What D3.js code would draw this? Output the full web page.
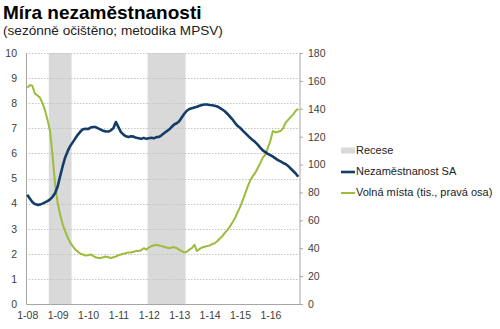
<!DOCTYPE html>
<html>
<head>
<meta charset="utf-8">
<script src="https://cdn.jsdelivr.net/npm/d3@7"></script>
<style>
  html, body { margin: 0; padding: 0; background: #fff; }
  svg { display: block; font-family: "Liberation Sans", Arial, sans-serif; }
</style>
</head>
<body>
<svg id="chart" width="500" height="329"></svg>
<script>
// Monthly observations, January 2008 – December 2016
const startYear = 2008;
const monthCount = 108;

// Registered unemployment rate, seasonally adjusted (%), left axis
const unemployment = [
  4.35, 4.2, 4.06, 3.98, 3.95, 3.96, 4.0, 4.05, 4.1, 4.17, 4.27, 4.42,
  4.68, 5.1, 5.5, 5.85, 6.1, 6.3, 6.45, 6.6, 6.75, 6.87, 6.96, 6.98,
  6.97, 7.03, 7.05, 7.05, 7.0, 6.95, 6.9, 6.87, 6.87, 6.92, 7.0, 7.25,
  7.05, 6.85, 6.75, 6.68, 6.65, 6.68, 6.67, 6.62, 6.6, 6.58, 6.62, 6.58,
  6.6, 6.62, 6.6, 6.65, 6.66, 6.72, 6.8, 6.88, 6.95, 7.05, 7.15, 7.2,
  7.28, 7.43, 7.58, 7.7, 7.77, 7.8, 7.83, 7.86, 7.9, 7.93, 7.95, 7.95,
  7.93, 7.92, 7.9, 7.87, 7.81, 7.75, 7.68, 7.58, 7.47, 7.36, 7.22, 7.1,
  7.02, 6.92, 6.82, 6.72, 6.62, 6.53, 6.45, 6.35, 6.23, 6.12, 6.05, 5.98,
  5.93, 5.87, 5.8, 5.73, 5.68, 5.62, 5.58, 5.5, 5.4, 5.3, 5.2, 5.07
];

// Job vacancies (thousands), right axis
const vacancies = [
  155, 157, 156.5, 151, 149.5, 148, 144, 139, 132, 124, 106, 86,
  72.5, 64, 57, 52, 47.5, 44, 41.3, 39, 37.5, 36, 35.5, 34.8,
  35, 35.5, 34.5, 33.5, 33, 33, 33.5, 34, 33.5, 33, 33.5, 34,
  35, 35.5, 36, 36.5, 37, 37, 37.5, 38, 38, 38.5, 40, 39,
  40.5, 41.5, 42, 42.5, 42, 41.5, 41, 40.5, 40, 40.5, 40.8, 40,
  39, 38, 37, 37.5, 39, 40, 42.5, 38, 39.5, 40.5, 41, 41.5,
  42, 43, 43.5, 45, 47, 48.5, 51, 53, 55.5, 58.5, 61.5, 65.5,
  69.5, 74, 79, 84, 88.5, 91.5, 94, 97.5, 101, 105, 107, 112,
  117, 124, 123, 123.5, 124, 126, 130, 132, 134, 136, 138.5, 140
];

// Recession periods as [first month index, last month index]
const recessions = [[9, 17], [48, 62]];

// Axis ticks
const leftTicks = [0, 1, 2, 3, 4, 5, 6, 7, 8, 9, 10];
const rightTicks = [0, 20, 40, 60, 80, 100, 120, 140, 160, 180];
const yearTickLabels = ["1-08", "1-09", "1-10", "1-11", "1-12", "1-13", "1-14", "1-15", "1-16"];

const titleText = "Míra nezaměstnanosti";
const subtitleText = "(sezónně očištěno; metodika MPSV)";
const legendLabels = ["Recese", "Nezaměstnanost SA", "Volná místa (tis., pravá osa)"];

const colors = { blue: "#143c69", green: "#9cbc3a", recession: "#d9d9d9", grid: "#c4c4c4", axis: "#a6a6a6", text: "#404040" };

const svg = d3.select("#chart");
const plot = { left: 26, right: 299.5, top: 53, bottom: 304 };

// Category-style x axis: each month occupies one slot, points sit at slot centres
const xSlot = d3.scaleLinear().domain([0, monthCount]).range([plot.left, plot.right]);
const x = i => xSlot(i + 0.5);
const yLeft = d3.scaleLinear().domain([0, 10]).range([plot.bottom, plot.top]);
const yRight = d3.scaleLinear().domain([0, 180]).range([plot.bottom, plot.top]);

// Title
svg.append("text").attr("x", 3).attr("y", 18.5)
  .attr("font-size", 19).attr("font-weight", "bold").attr("fill", "#000")
  .text(titleText);
svg.append("text").attr("x", 3).attr("y", 34.5)
  .attr("font-size", 13.6).attr("fill", "#222")
  .text(subtitleText);

// Recession shading
svg.append("g").selectAll("rect").data(recessions).join("rect")
  .attr("x", d => xSlot(d[0]))
  .attr("width", d => xSlot(d[1] + 1) - xSlot(d[0]))
  .attr("y", plot.top)
  .attr("height", plot.bottom - plot.top)
  .attr("fill", colors.recession);

// Horizontal dotted gridlines
svg.append("g").selectAll("line").data(leftTicks.filter(v => v > 0)).join("line")
  .attr("x1", plot.left).attr("x2", plot.right)
  .attr("y1", d => Math.round(yLeft(d)) + 0.5).attr("y2", d => Math.round(yLeft(d)) + 0.5)
  .attr("stroke", colors.grid).attr("stroke-width", 1).attr("stroke-dasharray", "1.5,1.5");

// Left axis
const leftAxis = svg.append("g").attr("transform", `translate(${plot.left},0)`)
  .call(d3.axisLeft(yLeft).tickValues(leftTicks).tickSize(0).tickPadding(9));
// Right axis
const rightAxis = svg.append("g").attr("transform", `translate(${plot.right},0)`)
  .call(d3.axisRight(yRight).tickValues(rightTicks).tickSize(3.5).tickPadding(5));
// Bottom axis
const yearIdx = yearTickLabels.map((_, k) => k * 12);
const bottomAxis = svg.append("g").attr("transform", `translate(0,${plot.bottom})`)
  .call(d3.axisBottom(d3.scaleLinear().domain([0, monthCount]).range([plot.left, plot.right]))
    .tickValues(yearIdx.map(i => i + 0.5))
    .tickFormat((d, k) => yearTickLabels[k])
    .tickSize(0).tickPadding(8));

[leftAxis, rightAxis, bottomAxis].forEach(g => {
  g.select(".domain").attr("stroke", colors.axis);
  g.selectAll(".tick line").attr("stroke", colors.axis);
  g.selectAll("text").attr("font-size", 10.5).attr("fill", colors.text)
    .attr("font-family", "'Liberation Sans', Arial, sans-serif");
});

// Series lines
const months = d3.range(monthCount);
const lineLeft = d3.line().x(i => x(i)).y(i => yLeft(unemployment[i]));
const lineRight = d3.line().x(i => x(i)).y(i => yRight(vacancies[i]));

svg.append("path").datum(months).attr("d", lineRight)
  .attr("fill", "none").attr("stroke", colors.green).attr("stroke-width", 2)
  .attr("stroke-linejoin", "round");
svg.append("path").datum(months).attr("d", lineLeft)
  .attr("fill", "none").attr("stroke", colors.blue).attr("stroke-width", 2.6)
  .attr("stroke-linejoin", "round");

// Legend
const legend = svg.append("g").attr("transform", "translate(341,0)");
legend.append("rect").attr("x", 0).attr("y", 147.5).attr("width", 14).attr("height", 6)
  .attr("fill", colors.recession);
legend.append("line").attr("x1", 0).attr("x2", 14).attr("y1", 172).attr("y2", 172)
  .attr("stroke", colors.blue).attr("stroke-width", 2.6);
legend.append("line").attr("x1", 0).attr("x2", 14).attr("y1", 193).attr("y2", 193)
  .attr("stroke", colors.green).attr("stroke-width", 2);
legend.selectAll("text").data(legendLabels).join("text")
  .attr("x", 15).attr("y", (d, k) => 154 + k * 21)
  .attr("font-size", 11).attr("fill", "#222")
  .text(d => d);
</script>
</body>
</html>
